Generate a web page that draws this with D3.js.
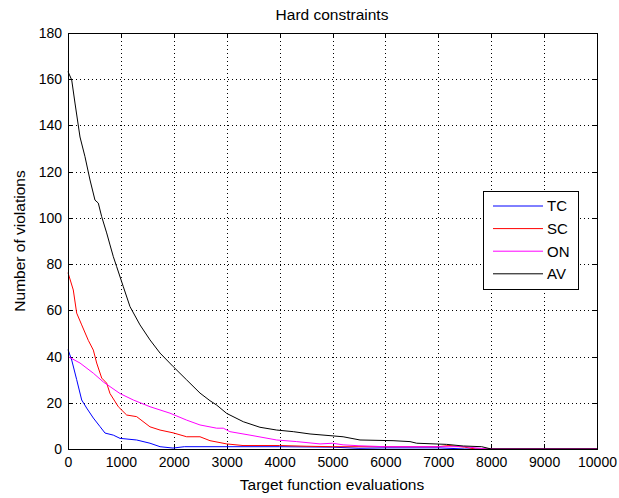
<!DOCTYPE html>
<html lang="en">
<head>
<meta charset="utf-8">
<title>Hard constraints</title>
<script src="https://d3js.org/d3.v7.min.js"></script>
<style>
  body { margin: 0; background: #fff; }
  text { font-family: "Liberation Sans", Arial, sans-serif; fill: #000; }
  .grid line { stroke: #000; stroke-width: 1px; stroke-dasharray: 1,3; shape-rendering: crispEdges; }
  .frame { fill: none; stroke: #000; stroke-width: 1px; shape-rendering: crispEdges; }
  .tick-mark { stroke: #000; stroke-width: 1px; shape-rendering: crispEdges; }
  .series { fill: none; stroke-width: 1px; }
</style>
</head>
<body>
<svg width="619" height="498"></svg>
<script>
// series: [target function evaluations, number of violations]
var TC = [[0,43],[70,38.5],[164,30],[259,21.2],[353,17.7],[479,13.4],[605,9.7],[700,6.9],
  [857,6],[983,4.6],[1298,3.9],[1550,2.5],[1740,1],[1985,0.4],[2200,1],[4000,1],[5000,0.8],
  [5500,0.3],[6000,0.5],[7000,0.5],[7500,0],[10000,0]];
var SC = [[0,76.3],[100,68.8],[164,58.8],[259,53.7],[384,47],[479,42.8],[542,37.2],[637,30.7],
  [731,28.5],[794,24],[951,18.3],[1109,14.7],[1298,14],[1550,9.6],[1740,8.2],[1985,7],
  [2243,5.3],[2495,5.3],[2684,3.6],[3000,2.2],[3308,1.5],[4000,1.5],[4500,1.2],[5000,1],
  [7000,1],[7200,1.5],[7500,0.8],[7700,0],[10000,0]];
var ON = [[0,40],[227,37.2],[479,32.8],[668,29],[983,24],[1235,21.2],[1550,18.3],[1928,15.5],
  [2243,12.5],[2495,10.4],[2811,9],[2936,9],[3062,7.5],[3440,6],[3945,3.9],[4323,3.2],
  [4764,2.2],[5000,2.5],[5200,1.8],[5500,1.4],[6000,1],[7500,1],[7900,0],[10000,0]];
var AV = [[0,163.3],[70,159.7],[132,149.7],[227,135],[321,126.5],[416,116.4],[510,107.7],
  [573,106.4],[637,100.5],[731,93.5],[794,88.3],[857,83.2],[920,78.9],[1046,70.2],[1172,61.6],
  [1361,53.7],[1550,47.2],[1740,41.5],[1991,35.6],[2243,29.9],[2495,24.2],[2684,20.9],
  [2811,19],[3000,15.4],[3314,11.8],[3629,9.4],[3945,8.2],[4259,7.5],[4575,6.5],[5200,5.3],
  [5520,3.9],[6144,3.6],[6465,3.2],[6592,2.5],[7159,2],[7473,1.3],[7820,1],[8000,0],[10000,0]];

var seriesNames = ["TC", "SC", "ON", "AV"];
var seriesData = [TC, SC, ON, AV];
var seriesColors = ["#0000ff", "#ff0000", "#ff00ff", "#000000"];

var xTicks = [0,1000,2000,3000,4000,5000,6000,7000,8000,9000,10000];
var yTicks = [0,20,40,60,80,100,120,140,160,180];

var svg = d3.select("svg");
var pLeft = 68, pRight = 597, pTop = 33, pBottom = 449;

var x = d3.scaleLinear().domain([0, 10000]).range([pLeft, pRight]);
var y = d3.scaleLinear().domain([0, 180]).range([pBottom, pTop]);

// dotted grid
var grid = svg.append("g").attr("class", "grid");
grid.selectAll(".gx").data(xTicks.slice(1, -1)).enter().append("line")
  .attr("x1", d => Math.round(x(d)) + 0.5).attr("x2", d => Math.round(x(d)) + 0.5)
  .attr("y1", pTop).attr("y2", pBottom);
grid.selectAll(".gy").data(yTicks.slice(1, -1)).enter().append("line")
  .attr("y1", d => Math.round(y(d)) + 0.5).attr("y2", d => Math.round(y(d)) + 0.5)
  .attr("x1", pLeft).attr("x2", pRight);

// axes, tick marks drawn separately (inward, all four sides)
var xAxis = d3.axisBottom(x).tickValues(xTicks).tickSize(0).tickPadding(8).tickFormat(d3.format("d"));
var yAxis = d3.axisLeft(y).tickValues(yTicks).tickSize(0).tickPadding(6).tickFormat(d3.format("d"));

var gx = svg.append("g").attr("transform", "translate(0," + pBottom + ")").call(xAxis);
var gy = svg.append("g").attr("transform", "translate(" + pLeft + ",0)").call(yAxis);
[gx, gy].forEach(function (g) {
  g.select(".domain").remove();
  g.selectAll("text").style("font-size", "14px").style("font-family", "'Liberation Sans', Arial, sans-serif");
});

var tl = 5;
var ticks = svg.append("g");
xTicks.forEach(function (d) {
  var px = Math.round(x(d)) + 0.5;
  ticks.append("line").attr("class", "tick-mark").attr("x1", px).attr("x2", px).attr("y1", pBottom).attr("y2", pBottom - tl);
  ticks.append("line").attr("class", "tick-mark").attr("x1", px).attr("x2", px).attr("y1", pTop).attr("y2", pTop + tl);
});
yTicks.forEach(function (d) {
  var py = Math.round(y(d)) + 0.5;
  ticks.append("line").attr("class", "tick-mark").attr("y1", py).attr("y2", py).attr("x1", pLeft).attr("x2", pLeft + tl);
  ticks.append("line").attr("class", "tick-mark").attr("y1", py).attr("y2", py).attr("x1", pRight).attr("x2", pRight - tl);
});

// data lines
var line = d3.line().x(d => x(d[0])).y(d => y(d[1]));
svg.append("g").selectAll("path").data(seriesData).enter().append("path")
  .attr("class", "series")
  .attr("stroke", (d, i) => seriesColors[i])
  .attr("d", line);

// box
svg.append("rect").attr("class", "frame")
  .attr("x", pLeft + 0.5).attr("y", pTop + 0.5)
  .attr("width", pRight - pLeft).attr("height", pBottom - pTop);

// labels
svg.append("text").attr("x", 332).attr("y", 20).attr("text-anchor", "middle")
  .style("font-size", "15.5px").text("Hard constraints");
svg.append("text").attr("x", 332).attr("y", 490).attr("text-anchor", "middle")
  .style("font-size", "15.5px").text("Target function evaluations");
svg.append("text").attr("transform", "translate(25,241) rotate(-90)").attr("text-anchor", "middle")
  .style("font-size", "15.5px").text("Number of violations");

// legend
var legend = svg.append("g");
legend.append("rect").attr("x", 483.5).attr("y", 191.5).attr("width", 95).attr("height", 98)
  .attr("fill", "#fff").attr("stroke", "#000").style("shape-rendering", "crispEdges");
seriesNames.forEach(function (name, i) {
  var ly = 206 + i * 22.6;
  legend.append("line").attr("x1", 493).attr("x2", 543).attr("y1", ly).attr("y2", ly)
    .attr("stroke", seriesColors[i]).attr("stroke-width", 1);
  legend.append("text").attr("x", 547).attr("y", ly).attr("dy", "0.36em")
    .style("font-size", "15px").text(name);
});
</script>
</body>
</html>
